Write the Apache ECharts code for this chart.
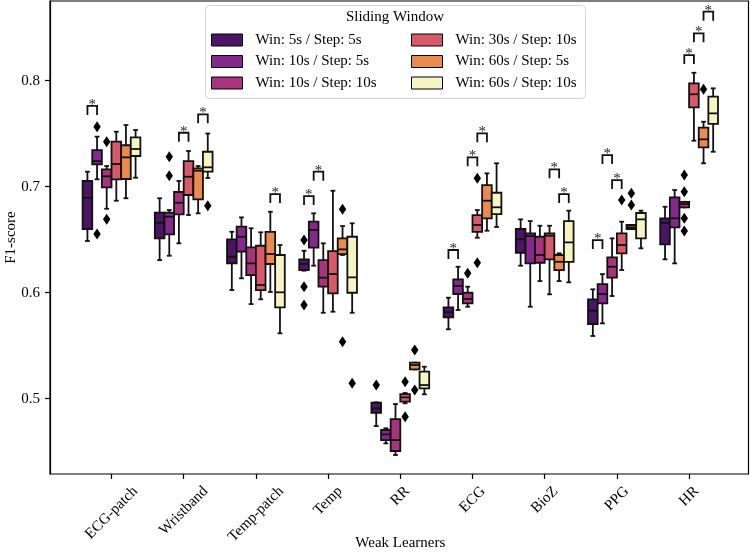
<!DOCTYPE html>
<html>
<head>
<meta charset="utf-8">
<script src="https://cdn.jsdelivr.net/npm/echarts@6/dist/echarts.min.js"></script>
<style>
html, body { margin: 0; padding: 0; background: #fff; }
#chart { width: 750px; height: 554px; }
</style>
</head>
<body>
<div id="chart"></div>
<script>
var categories = ['ECG-patch', 'Wristband', 'Temp-patch', 'Temp', 'RR', 'ECG', 'BioZ', 'PPG', 'HR'];
var windows = ['Win: 5s / Step: 5s', 'Win: 10s / Step: 5s', 'Win: 10s / Step: 10s',
	'Win: 30s / Step: 10s', 'Win: 60s / Step: 5s', 'Win: 60s / Step: 10s'];
var colors = ['#4b1565', '#82298a', '#a8357c', '#d75a6b', '#e98a4f', '#f6f4c3'];
var yTicks = [0.5, 0.6, 0.7, 0.8];
var yMin = 0.4290, yMax = 0.8752;

// [whisker low, q1, median, q3, whisker high] for each learner
var win5step5 = [
	[0.6488, 0.6601, 0.6896, 0.7054, 0.7142],
	[0.6308, 0.6513, 0.6660, 0.6755, 0.6891],
	[0.6025, 0.6277, 0.6340, 0.6504, 0.6575],
	[0.6208, 0.6214, 0.6271, 0.6315, 0.6396],
	[0.4742, 0.4868, 0.4909, 0.4962, 0.4966],
	[0.5655, 0.5768, 0.5815, 0.5862, 0.5953],
	[0.6255, 0.6377, 0.6504, 0.6601, 0.6692],
	[0.5592, 0.5705, 0.5830, 0.5938, 0.6032],
	[0.6315, 0.6457, 0.6660, 0.6702, 0.6811]
];
var win10step5 = [
	[0.7070, 0.7211, 0.7242, 0.7346, 0.7472],
	[0.6349, 0.6551, 0.6717, 0.6755, 0.6780],
	[0.6136, 0.6387, 0.6528, 0.6623, 0.6711],
	[0.6255, 0.6425, 0.6592, 0.6670, 0.6749],
	[0.4579, 0.4610, 0.4664, 0.4705, 0.4721],
	[0.5837, 0.5988, 0.6063, 0.6126, 0.6245],
	[0.5868, 0.6277, 0.6535, 0.6560, 0.6676],
	[0.5711, 0.5900, 0.5988, 0.6082, 0.6176],
	[0.6277, 0.6617, 0.6702, 0.6900, 0.6969]
];
var win10step10 = [
	[0.6792, 0.6994, 0.7098, 0.7164, 0.7195],
	[0.6466, 0.6740, 0.6849, 0.6950, 0.7054],
	[0.5893, 0.6167, 0.6277, 0.6428, 0.6608],
	[0.5811, 0.6057, 0.6142, 0.6308, 0.6466],
	[0.4469, 0.4507, 0.4610, 0.4808, 0.4950],
	[0.5868, 0.5900, 0.5941, 0.6000, 0.6057],
	[0.6110, 0.6283, 0.6356, 0.6528, 0.6632],
	[0.5969, 0.6142, 0.6245, 0.6334, 0.6513],
	[0.6806, 0.6806, 0.6837, 0.6858, 0.6858]
];
var win30step10 = [
	[0.6868, 0.7070, 0.7214, 0.7425, 0.7519],
	[0.6733, 0.6922, 0.7094, 0.7242, 0.7337],
	[0.5938, 0.6025, 0.6073, 0.6443, 0.6570],
	[0.5821, 0.5994, 0.6176, 0.6393, 0.6962],
	[0.4957, 0.4972, 0.5013, 0.5044, 0.5054],
	[0.6519, 0.6575, 0.6639, 0.6733, 0.6780],
	[0.5985, 0.6315, 0.6538, 0.6560, 0.6632],
	[0.6214, 0.6372, 0.6450, 0.6560, 0.6670],
	[0.7434, 0.7749, 0.7872, 0.7975, 0.8075]
];
var win60step5 = [
	[0.6891, 0.7073, 0.7277, 0.7391, 0.7582],
	[0.6749, 0.6881, 0.7151, 0.7174, 0.7195],
	[0.6007, 0.6271, 0.6365, 0.6575, 0.6764],
	[0.6356, 0.6365, 0.6409, 0.6513, 0.6629],
	[0.5277, 0.5277, 0.5318, 0.5340, 0.5340],
	[0.6585, 0.6702, 0.6868, 0.7016, 0.7126],
	[0.6110, 0.6214, 0.6292, 0.6356, 0.6372],
	[0.6601, 0.6601, 0.6617, 0.6639, 0.6639],
	[0.7221, 0.7372, 0.7447, 0.7557, 0.7613]
];
var win60step10 = [
	[0.7085, 0.7290, 0.7356, 0.7466, 0.7535],
	[0.7082, 0.7142, 0.7183, 0.7330, 0.7502],
	[0.5617, 0.5862, 0.6004, 0.6356, 0.6450],
	[0.5811, 0.6000, 0.6145, 0.6528, 0.6655],
	[0.5042, 0.5098, 0.5129, 0.5255, 0.5302],
	[0.6620, 0.6742, 0.6806, 0.6943, 0.7221],
	[0.6098, 0.6292, 0.6475, 0.6676, 0.6774],
	[0.6419, 0.6513, 0.6692, 0.6752, 0.6774],
	[0.7330, 0.7592, 0.7692, 0.7849, 0.7928]
];

// [learner, window, value]
var outliers = [
	[0, 1, 0.7566], [0, 1, 0.6554], [0, 2, 0.7425], [0, 2, 0.6692],
	[1, 1, 0.7283], [1, 1, 0.7104], [1, 5, 0.6821],
	[3, 0, 0.6497], [3, 0, 0.6057], [3, 0, 0.5884], [3, 4, 0.6787], [3, 4, 0.5538], [3, 5, 0.5145],
	[4, 0, 0.5129], [4, 3, 0.5160], [4, 3, 0.4830], [4, 4, 0.5459], [4, 4, 0.5082],
	[5, 2, 0.6183], [5, 3, 0.6283], [5, 3, 0.7079],
	[7, 3, 0.6875], [7, 4, 0.6938], [7, 4, 0.6827],
	[8, 2, 0.7110], [8, 2, 0.6953], [8, 2, 0.6702], [8, 2, 0.6582], [8, 4, 0.7919]
];

// significance bracket: [learner, left window, height]
var brackets = [
	[0, 0, 0.7762],
	[1, 2, 0.7509], [1, 4, 0.7683],
	[2, 4, 0.6931],
	[3, 0, 0.6912], [3, 1, 0.7142],
	[5, 0, 0.6403], [5, 2, 0.7277], [5, 3, 0.7504],
	[6, 3, 0.7164], [6, 4, 0.6931],
	[7, 0, 0.6497], [7, 1, 0.7299], [7, 2, 0.7063],
	[8, 2, 0.8242], [8, 3, 0.8447], [8, 4, 0.8651]
];

var boxStats = [win5step5, win10step5, win10step10, win30step10, win60step5, win60step10];
var font = 'Liberation Serif';
var lineStyle = { stroke: '#111', lineWidth: 1.8 };

function boxX(api, cat, k) {
	var w = api.size([1, 0])[0] * 0.8 / 6;
	return { x: api.coord([cat, yMin])[0] + (k - 2.5) * w, w: w };
}

function renderBox(k) {
	return function (params, api) {
		var cat = api.value(0);
		var b = boxX(api, cat, k);
		var cx = b.x, w = b.w;
		var y = function (i) { return api.coord([cat, api.value(i)])[1]; };
		return {
			type: 'group',
			children: [
				{ type: 'line', shape: { x1: cx, y1: y(5), x2: cx, y2: y(4) }, style: lineStyle },
				{ type: 'line', shape: { x1: cx, y1: y(2), x2: cx, y2: y(1) }, style: lineStyle },
				{ type: 'line', shape: { x1: cx - w / 4, y1: y(5), x2: cx + w / 4, y2: y(5) }, style: lineStyle },
				{ type: 'line', shape: { x1: cx - w / 4, y1: y(1), x2: cx + w / 4, y2: y(1) }, style: lineStyle },
				{ type: 'rect', shape: { x: cx - w / 2, y: y(4), width: w, height: y(2) - y(4) },
					style: { fill: colors[k], stroke: '#111', lineWidth: 1.8 } },
				{ type: 'line', shape: { x1: cx - w / 2, y1: y(3), x2: cx + w / 2, y2: y(3) }, style: lineStyle }
			]
		};
	};
}

function renderOutlier(params, api) {
	var cat = api.value(0);
	var b = boxX(api, cat, api.value(1));
	var y = api.coord([cat, api.value(2)])[1];
	return {
		type: 'polygon',
		shape: { points: [[b.x, y - 5.5], [b.x + 3.7, y], [b.x, y + 5.5], [b.x - 3.7, y]] },
		style: { fill: '#000' }
	};
}

function renderBracket(params, api) {
	var cat = api.value(0);
	var k = api.value(1);
	var x1 = boxX(api, cat, k).x;
	var x2 = boxX(api, cat, k + 1).x;
	var y = api.coord([cat, api.value(2)])[1];
	return {
		type: 'group',
		children: [
			{ type: 'polyline', shape: { points: [[x1, y + 9], [x1, y], [x2, y], [x2, y + 9]] },
				style: { stroke: '#111', lineWidth: 1.8, fill: null } },
			{ type: 'text', x: (x1 + x2) / 2, y: y - 1,
				style: { text: '*', fontFamily: font, fontSize: 15, fill: '#222', align: 'center', verticalAlign: 'middle' } }
		]
	};
}

// rotated tick labels centred under the tick like matplotlib
var ctx = document.createElement('canvas').getContext('2d');
ctx.font = '15px "Liberation Serif"';
var rich = {};
categories.forEach(function (c, i) {
	var p = ctx.measureText(c).width * 0.5;
	rich['c' + i] = { fontFamily: font, fontSize: 15, color: '#000', padding: [p, p, 0, 0] };
});

var series = windows.map(function (name, k) {
	return {
		type: 'custom',
		name: name,
		xAxisIndex: 1,
		yAxisIndex: 1,
		clip: false,
		renderItem: renderBox(k),
		itemStyle: { color: colors[k], borderColor: '#000', borderWidth: 1 },
		encode: { x: 0, y: [1, 2, 3, 4, 5] },
		data: boxStats[k].map(function (s, i) { return [i].concat(s); })
	};
});
series.push({
	type: 'custom', name: 'outliers', xAxisIndex: 1, yAxisIndex: 1, clip: false,
	renderItem: renderOutlier, encode: { x: 0, y: 2 }, data: outliers
});
series.push({
	type: 'custom', name: 'brackets', xAxisIndex: 1, yAxisIndex: 1, clip: false,
	renderItem: renderBracket, encode: { x: 0, y: 2 }, data: brackets
});

var legendBase = {
	orient: 'vertical',
	top: 32.5,
	padding: 0,
	itemWidth: 31,
	itemHeight: 12,
	itemGap: 6.5,
	icon: 'rect',
	selectedMode: false,
	z: 5,
	itemStyle: { borderColor: '#000', borderWidth: 1 },
	textStyle: { fontFamily: font, fontSize: 15, color: '#000', padding: [0, 0, 0, 8] }
};

var option = {
	animation: false,
	color: colors,
	grid: [
		{ left: 50, right: 1.5, top: 1, bottom: 80, outerBoundsMode: 'none',
			show: true, borderColor: '#000', borderWidth: 1.2 },
		{ left: 75.4, right: 24.8, top: 1, bottom: 80, outerBoundsMode: 'none' }
	],
	xAxis: [
		{ gridIndex: 0, type: 'value', show: false, min: 0, max: 1 },
		{
			gridIndex: 1, type: 'category', data: categories,
			axisLine: { show: false },
			axisTick: { show: true, alignWithLabel: true, length: 5, lineStyle: { color: '#000', width: 1.2 } },
			axisLabel: {
				interval: 0, rotate: 45, align: 'center', verticalAlign: 'middle', margin: 15,
				fontFamily: font, fontSize: 15, color: '#000', rich: rich,
				formatter: function (v, i) { return '{c' + i + '|' + v + '}'; }
			},
			name: 'Weak Learners', nameLocation: 'middle', nameGap: 62, nameMoveOverlap: false,
			nameTextStyle: { fontFamily: font, fontSize: 15, color: '#000' }
		}
	],
	yAxis: [
		{
			gridIndex: 0, type: 'value', min: yMin, max: yMax,
			splitLine: { show: false },
			axisLine: { show: true, lineStyle: { color: '#000', width: 1.2 } },
			axisTick: { show: true, length: 5, customValues: yTicks, lineStyle: { color: '#000', width: 1.2 } },
			axisLabel: {
				customValues: yTicks, margin: 10, fontFamily: font, fontSize: 15, color: '#000',
				formatter: function (v) { return v.toFixed(1); }
			},
			name: 'F1-score', nameLocation: 'middle', nameGap: 31, nameMoveOverlap: false,
			nameTextStyle: { fontFamily: font, fontSize: 15, color: '#000' }
		},
		{ gridIndex: 1, type: 'value', min: yMin, max: yMax, show: false }
	],
	legend: [
		Object.assign({}, legendBase, { left: 211, data: windows.slice(0, 3) }),
		Object.assign({}, legendBase, { left: 411, data: windows.slice(3) })
	],
	graphic: [
		{ type: 'rect', left: 205, top: 5, z: 1,
			shape: { width: 380, height: 93, r: 4 },
			style: { fill: 'rgba(255,255,255,0.8)', stroke: '#d4d4d4', lineWidth: 1 } },
		{ type: 'text', x: 395, y: 17, z: 6,
			style: { text: 'Sliding Window', fontFamily: font, fontSize: 15, fill: '#000',
				align: 'center', verticalAlign: 'middle' } }
	],
	series: series
};

var chart = echarts.init(document.getElementById('chart'));
chart.setOption(option);
</script>
</body>
</html>
